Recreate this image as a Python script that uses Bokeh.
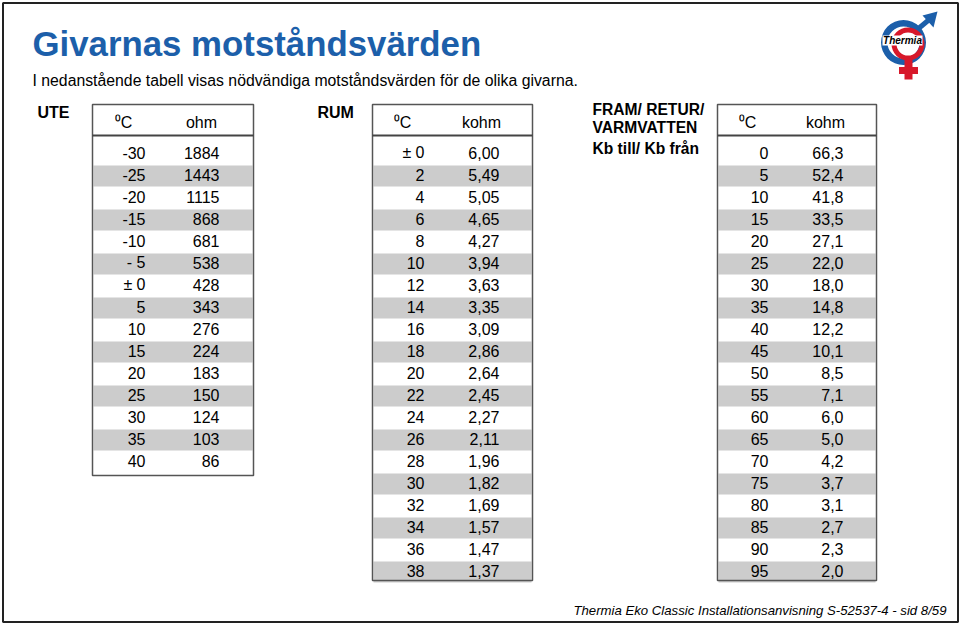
from bokeh.plotting import figure
from bokeh.models import ColumnDataSource, Range1d
from bokeh.core.properties import value
from bokeh.embed import file_html
from bokeh.resources import INLINE

# ---------------- data ----------------
title = "Givarnas motståndsvärden"
subtitle = "I nedanstående tabell visas nödvändiga motståndsvärden för de olika givarna."
footer = "Thermia Eko Classic Installationsanvisning S-52537-4 - sid 8/59"

ute_label = ["UTE"]
ute_headers = ["⁰C", "ohm"]
ute_temp = ["-30", "-25", "-20", "-15", "-10", "- 5", "± 0", "5", "10", "15",
            "20", "25", "30", "35", "40"]
ute_ohm = ["1884", "1443", "1115", "868", "681", "538", "428", "343", "276", "224",
           "183", "150", "124", "103", "86"]

rum_label = ["RUM"]
rum_headers = ["⁰C", "kohm"]
rum_temp = ["± 0", "2", "4", "6", "8", "10", "12", "14", "16", "18",
            "20", "22", "24", "26", "28", "30", "32", "34", "36", "38"]
rum_kohm = ["6,00", "5,49", "5,05", "4,65", "4,27", "3,94", "3,63", "3,35", "3,09", "2,86",
            "2,64", "2,45", "2,27", "2,11", "1,96", "1,82", "1,69", "1,57", "1,47", "1,37"]

fram_label = ["FRAM/ RETUR/", "VARMVATTEN", "Kb till/ Kb från"]
fram_headers = ["⁰C", "kohm"]
fram_temp = ["0", "5", "10", "15", "20", "25", "30", "35", "40", "45",
             "50", "55", "60", "65", "70", "75", "80", "85", "90", "95"]
fram_kohm = ["66,3", "52,4", "41,8", "33,5", "27,1", "22,0", "18,0", "14,8", "12,2", "10,1",
             "8,5", "7,1", "6,0", "5,0", "4,2", "3,7", "3,1", "2,7", "2,3", "2,0"]

logo_text = ["Thermia"]

# ---------------- figure ----------------
FONT = "Liberation Sans"
BLUE = "#1c5faa"
p = figure(width=960, height=625, x_range=Range1d(0, 960), y_range=Range1d(625, 0),
           output_backend="svg", toolbar_location=None,
           x_axis_type=None, y_axis_type=None, min_border=0)
p.grid.visible = False
p.outline_line_color = None
p.background_fill_color = "white"
p.border_fill_color = "white"


def txt(x, y, t, size, align="left", style="normal", color="black"):
    src = ColumnDataSource(dict(x=x, y=y, t=t))
    p.text(x="x", y="y", text="t", source=src, text_font=value(FONT),
           text_font_size=value(f"{size}px"), text_align=align,
           text_baseline="middle", text_font_style=style, text_color=color)


# outer page border
p.quad(left=[2.5], right=[957.5], top=[2.5], bottom=[621.5], fill_color=None,
       line_color="#222222", line_width=2)

# title / subtitle / footer
txt([32], [43], [title], 34.8, style="bold", color=BLUE)
txt([32], [80], [subtitle], 15.8)
txt([946], [610], [footer], 13.2, align="right", style="italic")

ROW0 = 152
DY = 22
TOP = 104
HDR = 135


def table(box_l, box_r, bottom, temps, vals, headers, hdr_x, t_right, v_right):
    n = len(temps)
    centers = [ROW0 + DY * i for i in range(n)]
    shade = [c + 1.5 for i, c in enumerate(centers) if i % 2 == 1]
    p.rect(x=[(box_l + box_r) / 2] * len(shade), y=shade, width=box_r - box_l - 2,
           height=21, fill_color="#cccccc", line_color=None)
    p.quad(left=[box_l], right=[box_r], top=[TOP], bottom=[bottom], fill_color=None,
           line_color="#555555", line_width=1.5)
    p.segment(x0=[box_l], x1=[box_r], y0=[HDR], y1=[HDR], line_color="#444444",
              line_width=2)
    txt(hdr_x, [122, 122], headers, 16, align="center")
    txt([t_right] * n, centers, temps, 16, align="right")
    txt([v_right] * n, centers, vals, 16, align="right")


table(92, 253, 475, ute_temp, ute_ohm, ute_headers, [123, 201], 145, 219)
txt([37], [112], ute_label, 16, style="bold")

table(372, 532, 580, rum_temp, rum_kohm, rum_headers, [402, 481], 424, 499)
txt([317], [112], rum_label, 16, style="bold")

table(717, 876, 580, fram_temp, fram_kohm, fram_headers, [747, 825], 768, 843)
txt([592] * 3, [109, 127, 148], fram_label, 15.6, style="bold")

# ---------------- logo ----------------
RED = "#d7182a"
p.annulus(x=[903], y=[42], inner_radius=16, outer_radius=22.5, fill_color=BLUE,
          line_color=None)
p.annulus(x=[907.5], y=[43.5], inner_radius=11.5, outer_radius=16.5, fill_color=RED,
          line_color=None)
p.segment(x0=[918], y0=[28], x1=[930], y1=[18], line_color=BLUE, line_width=5)
p.patch(x=[937, 922, 933], y=[11, 15, 27], fill_color=BLUE, line_color=None)
p.rect(x=[908], y=[69], width=8, height=20, fill_color=RED, line_color=None)
p.rect(x=[908], y=[70], width=19, height=7, fill_color=RED, line_color=None)
p.rect(x=[902], y=[40], width=40, height=10, fill_color="white", line_color=None)
src_logo = ColumnDataSource(dict(x=[902], y=[40], t=logo_text))
p.text(x="x", y="y", text="t", source=src_logo, text_font=value(FONT),
       text_font_size=value("10px"), text_align="center", text_baseline="middle",
       text_font_style="bold italic", text_color="black")

open("out.html", "w").write(file_html(p, INLINE))
